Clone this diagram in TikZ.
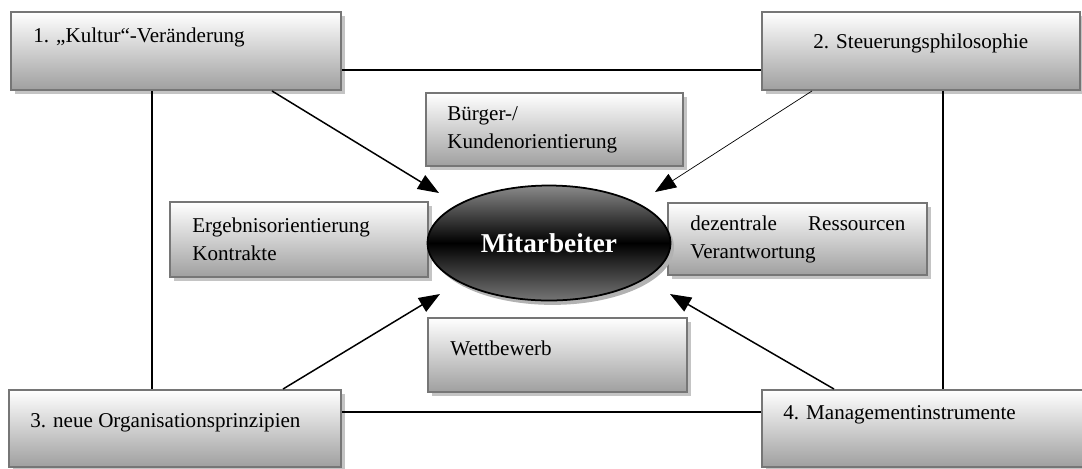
\documentclass[tikz,border=0pt]{standalone}
\usepackage{fontspec}
\setmainfont{Liberation Serif}
\usetikzlibrary{fit,shadows,arrows.meta,shapes.geometric}

\definecolor{rand}{HTML}{767676}
\definecolor{schatten}{HTML}{C4C4C4}
\definecolor{ellhell}{HTML}{8A8A8A}

\tikzset{
kasten/.style={draw=rand,line width=1.1pt,top color=white,bottom color=gray!75,
  inner sep=0pt,drop shadow={shadow xshift=2pt,shadow yshift=-2.5pt,fill=schatten,opacity=1}},
txt/.style={inner sep=0pt,anchor=west,align=left,font=\fontsize{12}{15.9}\selectfont},
linie/.style={line width=0.85pt},
pfeil/.style={line width=0.85pt,-{Triangle[length=12pt,width=9pt]}}
}

\begin{document}
\begin{tikzpicture}[x=0.02cm,y=-0.02cm]
\useasboundingbox (0,0) rectangle (1082,468);
\clip (0,0) rectangle (1082,468);

%%%% aeussere Kaesten
%%%%
\foreach \n/\xa/\ya/\xb/\yb in{
k1/11/12/341/90,k2/762/12/1080/90,k3/9/390/341/467,k4/762/390/1084/467%
}{
\node[kasten,fit={(\xa,\ya) (\xb,\yb)}](\n) {};
}

\node[txt](t1) at(33,37) {1. „Kultur“-Veränderung};
\node[txt](t2) at(813,43) {2. Steuerungsphilosophie};
\node[txt](t3) at(30,423) {3. neue Organisationsprinzipien};
\node[txt](t4) at(783,415) {4. Managementinstrumente};

%%%% Verbindungen
%%%%
\draw[linie] (k1.east |- 0,70) -- (k2.west |- 0,70);
\draw[linie] (k3.east |- 0,412) -- (k4.west |- 0,412);
\draw[linie] (k1.south -| 152,0) -- (k3.north -| 152,0);
\draw[linie] (k2.south -| 943,0) -- (k4.north -| 943,0);

%%%% innere Kaesten
%%%%
\foreach \n/\xa/\ya/\xb/\yb in{
b/426/93/683/166,e/170/202/428/277,d/668/203/927/275,w/428/318/687/392%
}{
\node[kasten,fit={(\xa,\ya) (\xb,\yb)}](\n) {};
}

\node[txt](tb) at(447,130) {Bürger-/\\Kundenorientierung};
\node[txt](te) at(192,239) {Ergebnisorientierung\\Kontrakte};
\node[txt,text width=4.3cm](td) at(690,239) {dezentrale\hfill Ressourcen\\Verantwortung};
\node[txt](tw) at(450,348) {Wettbewerb};

%%%% Mitte
%%%%
\node[ellipse,draw=black,line width=1pt,minimum width=4.86cm,minimum height=2.3cm,
  top color=ellhell,bottom color=ellhell!85!black,middle color=black,
  drop shadow={shadow xshift=2pt,shadow yshift=-2.5pt,fill=gray!60,opacity=1},
  text=white,font=\fontsize{15.5}{18}\selectfont\bfseries](m) at(549,243) {Mitarbeiter};

\coordinate (a1) at(439,193);
\coordinate (a2) at(655,192);
\coordinate (a3) at(440,294);
\coordinate (a4) at(670,294);

\draw[pfeil] (k1.south -| 272,0) -- (a1);
\draw[pfeil,line width=0.4pt] (k2.south -| 812,0) -- (a2);
\draw[pfeil] (k3.north -| 283,0) -- (a3);
\draw[pfeil] (k4.north -| 834,0) -- (a4);

\end{tikzpicture}
\end{document}
